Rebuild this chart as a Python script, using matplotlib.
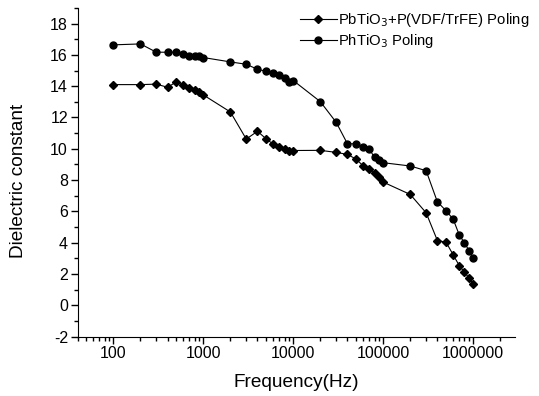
import numpy as np
import matplotlib.pyplot as plt
from matplotlib.ticker import FixedLocator, FuncFormatter, LogLocator, MultipleLocator

plt.rcParams['font.family'] = ['Liberation Sans', 'DejaVu Sans']
plt.rcParams['axes.unicode_minus'] = False

freq = [100, 200, 300, 400, 500, 600, 700, 800, 900,
        1000, 2000, 3000, 4000, 5000, 6000, 7000, 8000, 9000,
        10000, 20000, 30000, 40000, 50000, 60000, 70000, 80000, 90000,
        100000, 200000, 300000, 400000, 500000, 600000, 700000, 800000, 900000,
        1000000]

composite = [14.1, 14.1, 14.13, 13.93, 14.27, 14.06, 13.87, 13.74, 13.63,
             13.44, 12.35, 10.62, 11.12, 10.63, 10.29, 10.13, 10.0, 9.89,
             9.89, 9.9, 9.77, 9.64, 9.34, 8.9, 8.68, 8.43, 8.17,
             7.87, 7.08, 5.91, 4.14, 4.03, 3.22, 2.54, 2.11, 1.75,
             1.36]

pure = [16.64, 16.7, 16.17, 16.17, 16.17, 16.04, 15.96, 15.93, 15.9,
        15.83, 15.55, 15.4, 15.08, 14.95, 14.83, 14.7, 14.55, 14.25,
        14.36, 13.01, 11.69, 10.32, 10.32, 10.09, 9.98, 9.45, 9.28,
        9.11, 8.9, 8.6, 6.61, 6.04, 5.5, 4.5, 3.99, 3.5,
        2.99]

labels = ['PbTiO$_3$+P(VDF/TrFE) Poling', 'PhTiO$_3$ Poling']

fig = plt.figure(figsize=(5.39, 3.96), dpi=100)
ax = fig.add_axes([0.144, 0.15, 0.811, 0.83])

ax.plot(freq, composite, color='black', lw=0.8, marker='D', markersize=4.5, label=labels[0])
ax.plot(freq, pure, color='black', lw=0.8, marker='o', markersize=5, label=labels[1])

ax.set_xscale('log')
ax.set_xlim(40, 2.9e6)
ax.set_ylim(-2, 19)
ax.xaxis.set_major_locator(FixedLocator([100, 1000, 10000, 100000, 1000000]))
ax.xaxis.set_major_formatter(FuncFormatter(lambda v, p: '%d' % v))
ax.xaxis.set_minor_locator(LogLocator(base=10, subs=np.arange(2, 10)))
ax.yaxis.set_major_locator(MultipleLocator(2))
ax.yaxis.set_minor_locator(MultipleLocator(1))

for s in ['top', 'right']:
    ax.spines[s].set_visible(False)
ax.tick_params(which='major', direction='out', length=5, width=1, labelsize=11.5, pad=2)
ax.tick_params(which='minor', direction='out', length=3, width=1)

ax.set_xlabel('Frequency(Hz)', fontsize=13.7, labelpad=9)
ax.set_ylabel('Dielectric constant', fontsize=13.7)
ax.yaxis.set_label_coords(-0.116, 0.475)

ax.legend(loc='upper right', bbox_to_anchor=(1.065, 1.03), frameon=False, fontsize=10.7,
          handlelength=2.5, handletextpad=0.1, labelspacing=0.2)

fig.savefig('out.png', dpi=100)
